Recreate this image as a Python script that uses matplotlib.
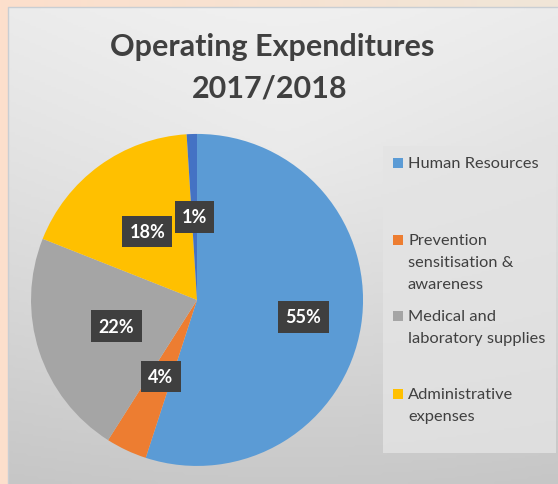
import numpy as np
import matplotlib
matplotlib.use("Agg")
import matplotlib.pyplot as plt
from matplotlib.patches import Rectangle

# data
categories = ["Human Resources", "Prevention\nsensitisation &\nawareness",
              "Medical and\nlaboratory supplies", "Administrative\nexpenses", ""]
shares = [55, 4, 22, 18, 1]
colors = ["#5B9BD5", "#ED7D31", "#A5A5A5", "#FFC000", "#4472C4"]
label_dist = [0.65, 0.51, 0.51, 0.51, 0.50]
legend_rows = [164, 241, 317, 395]   # first-line centre of each legend entry (px from top)

plt.rcParams['font.family'] = ['Lato', 'DejaVu Sans']

fig = plt.figure(figsize=(5.58, 4.85), dpi=100)

# backgrounds: peach frame + grey gradient panel
bg = fig.add_axes([0, 0, 1, 1])
bg.set_xlim(0, 558)
bg.set_ylim(485, 0)
bg.axis('off')
hgrad = np.linspace(0, 1, 256)[None, :]
bg.imshow(hgrad, extent=[0, 558, 485, 0], aspect='auto',
          cmap=matplotlib.colors.LinearSegmentedColormap.from_list('p', ['#FDDFCC', '#F0E6D8']))
yy, xx = np.mgrid[0:200, 0:200]
vgrad = 0.55 * (yy / 199.0) + 0.25 * np.hypot(xx / 199.0 - 0.5, yy / 199.0 - 0.3)
bg.imshow(vgrad, extent=[8, 558, 485, 8], aspect='auto', vmin=0, vmax=1,
          cmap=matplotlib.colors.LinearSegmentedColormap.from_list('g', ['#F4F4F4', '#B8B8B8']))
bg.plot([8, 8, 558], [485, 8, 8], color='#C9CED3', lw=1)
# legend panel
bg.add_patch(Rectangle((383, 147), 173, 307, facecolor='#E4E4E4', edgecolor='none', alpha=0.8))

fig.text(0.487, 0.903, "Operating Expenditures", ha='center', va='center',
         fontsize=22, fontweight='bold', color='#404040')
fig.text(0.484, 0.818, "2017/2018", ha='center', va='center',
         fontsize=22, fontweight='bold', color='#404040')

ax = fig.add_axes([0.0556, 0.037, 0.595, 0.685])
wedges, _ = ax.pie(shares, colors=colors, startangle=90, counterclock=False,
                   wedgeprops=dict(linewidth=0))
ax.set_xlim(-1, 1)
ax.set_ylim(-1, 1)
ax.set_aspect('equal')

for w, s, d in zip(wedges, shares, label_dist):
    ang = np.deg2rad((w.theta1 + w.theta2) / 2)
    ax.text(d * np.cos(ang), d * np.sin(ang), f"{s}%", ha='center', va='center',
            color='white', fontsize=13, fontweight='bold',
            bbox=dict(boxstyle='square,pad=0.4', facecolor='#3F3F3F', edgecolor='none'))

# legend, drawn by hand so the swatch sits on the first line
for lab, col, y in zip(categories[:4], colors[:4], legend_rows):
    bg.add_patch(Rectangle((393, y - 5), 10, 10, facecolor=col, edgecolor='none'))
    for i, line in enumerate(lab.split("\n")):
        bg.text(408, y + i * 22, line, ha='left', va='center',
                fontsize=11.8, color='#404040')

fig.savefig("out.png", dpi=100)
